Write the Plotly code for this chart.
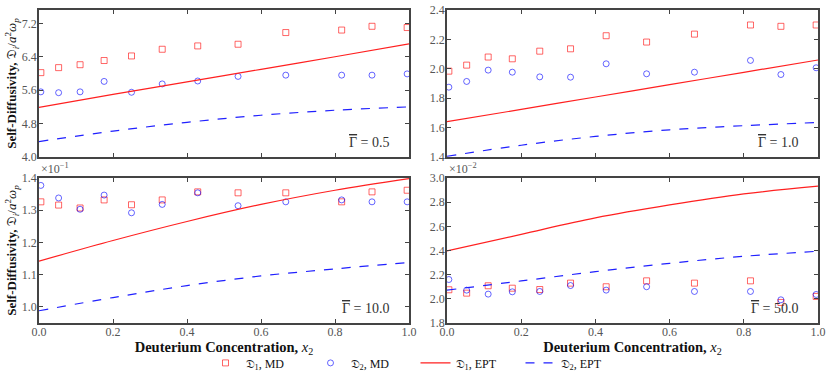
import plotly.graph_objects as go

# concentracoes x2 dos pontos de MD
X_MD = [0.005, 0.053, 0.111, 0.176, 0.25, 0.333, 0.429, 0.538, 0.667, 0.818, 0.9, 0.995]
# malha das curvas EPT
X_EPT = [0.0, 0.2, 0.4, 0.6, 0.8, 1.0]

# Gamma = 0.5
MD_D1_G05 = [6.02, 6.14, 6.21, 6.31, 6.42, 6.58, 6.66, 6.70, 6.98, 7.04, 7.13, 7.10]
MD_D2_G05 = [5.56, 5.54, 5.56, 5.81, 5.55, 5.75, 5.82, 5.93, 5.96, 5.96, 5.96, 5.99]
EPT_D1_G05 = [5.19, 5.50, 5.80, 6.10, 6.40, 6.71]
EPT_D2_G05 = [4.37, 4.62, 4.83, 5.00, 5.12, 5.20]

# Gamma = 1.0
MD_D1_G1 = [1.984, 2.025, 2.080, 2.068, 2.120, 2.136, 2.225, 2.182, 2.236, 2.298, 2.289, 2.298]
MD_D2_G1 = [1.875, 1.914, 1.991, 1.977, 1.945, 1.943, 2.034, 1.966, 1.977, 2.057, 1.961, 2.007]
EPT_D1_G1 = [1.640, 1.724, 1.808, 1.892, 1.976, 2.060]
EPT_D2_G1 = [1.405, 1.480, 1.540, 1.585, 1.613, 1.635]

# Gamma = 10.0  (valores reais, eixo em x1e-1)
MD_D1_G10 = [0.1326, 0.1316, 0.1307, 0.1332, 0.1317, 0.1332, 0.1357, 0.1354, 0.1354, 0.1326, 0.1357, 0.1362]
MD_D2_G10 = [0.1377, 0.1338, 0.1303, 0.1347, 0.1292, 0.1318, 0.1354, 0.1314, 0.1326, 0.1332, 0.1326, 0.1326]
EPT_D1_G10 = [0.1142, 0.1206, 0.1265, 0.1318, 0.1362, 0.1398]
EPT_D2_G10 = [0.0988, 0.1029, 0.1066, 0.1096, 0.1118, 0.1138]

# Gamma = 50.0  (valores reais, eixo em x1e-2)
MD_D1_G50 = [0.02075, 0.02047, 0.02108, 0.02088, 0.02077, 0.02130, 0.02100, 0.02149, 0.02130, 0.02149, 0.01970, 0.02020]
MD_D2_G50 = [0.02160, 0.02072, 0.02039, 0.02058, 0.02061, 0.02110, 0.02072, 0.02100, 0.02061, 0.02061, 0.01992, 0.02036]
EPT_D1_G50 = [0.02396, 0.02534, 0.02670, 0.02777, 0.02868, 0.02932]
EPT_D2_G50 = [0.02072, 0.02148, 0.02225, 0.02294, 0.02352, 0.02394]

PAINEIS = [
    # (md1, md2, ept1, ept2, escala, faixa y, dtick, gamma)
    (MD_D1_G05, MD_D2_G05, EPT_D1_G05, EPT_D2_G05, 1, [4.0, 7.52], 0.8, "0.5"),
    (MD_D1_G1, MD_D2_G1, EPT_D1_G1, EPT_D2_G1, 1, [1.4, 2.4], 0.2, "1.0"),
    (MD_D1_G10, MD_D2_G10, EPT_D1_G10, EPT_D2_G10, 1e-1, [0.95, 1.4], 0.1, "10.0"),
    (MD_D1_G50, MD_D2_G50, EPT_D1_G50, EPT_D2_G50, 1e-2, [1.8, 3.0], 0.2, "50.0"),
]

W, H = 831, 382
DOM_X = [[39 / W, 409 / W], [447 / W, 818 / W]]
DOM_Y = [[1 - 157 / H, 1 - 10 / H], [1 - 323 / H, 1 - 178 / H]]

VERMELHO = "rgba(255,0,0,0.6)"
AZUL = "rgba(0,0,255,0.6)"
FONTE = "Liberation Serif, DejaVu Serif, serif"
D = "\U0001D507"

fig = go.Figure()
layout = {}
anots = []

for k, (md1, md2, e1, e2, esc, faixa, dt, gam) in enumerate(PAINEIS):
    lin, col = divmod(k, 2)
    n = k + 1
    xa = "x" if n == 1 else f"x{n}"
    ya = "y" if n == 1 else f"y{n}"
    leg = k == 0
    fig.add_trace(go.Scatter(
        x=X_MD, y=[v / esc for v in md1], mode="markers", xaxis=xa, yaxis=ya,
        name=f"{D}<sub>1</sub>, MD", showlegend=leg, cliponaxis=False,
        marker=dict(symbol="square-open", size=6, color=VERMELHO, line=dict(width=1)),
    ))
    fig.add_trace(go.Scatter(
        x=X_MD, y=[v / esc for v in md2], mode="markers", xaxis=xa, yaxis=ya,
        name=f"{D}<sub>2</sub>, MD", showlegend=leg, cliponaxis=False,
        marker=dict(symbol="circle-open", size=6, color=AZUL, line=dict(width=1)),
    ))
    fig.add_trace(go.Scatter(
        x=X_EPT, y=[v / esc for v in e1], mode="lines", xaxis=xa, yaxis=ya,
        name=f"{D}<sub>1</sub>, EPT", showlegend=leg,
        line=dict(color="#ff2020", width=1.2, shape="spline"),
    ))
    fig.add_trace(go.Scatter(
        x=X_EPT, y=[v / esc for v in e2], mode="lines", xaxis=xa, yaxis=ya,
        name=f"{D}<sub>2</sub>, EPT", showlegend=leg,
        line=dict(color="#2020ff", width=1.2, dash="dash", shape="spline"),
    ))

    eixo = dict(
        showline=True, linecolor="#444444", linewidth=1.5, mirror="ticks",
        ticks="inside", ticklen=4, tickcolor="#444444", showgrid=False, zeroline=False,
        tickfont=dict(family=FONTE, size=12, color="#555555"), automargin=False,
    )
    layout["xaxis" if n == 1 else f"xaxis{n}"] = dict(
        eixo, domain=DOM_X[col], range=[0, 1], dtick=0.2, tick0=0, tickformat=".1f",
        anchor=ya, showticklabels=(lin == 1), ticklabelstandoff=-3,
        title=dict(text="<b>Deuterium Concentration, </b><i>x</i><sub>2</sub>",
                   font=dict(family=FONTE, size=14.5, color="#111111"), standoff=0) if lin == 1 else None,
    )
    layout["yaxis" if n == 1 else f"yaxis{n}"] = dict(
        eixo, domain=DOM_Y[lin], range=faixa, dtick=dt, tick0=faixa[0] if k == 0 else 1.0,
        tickformat=".1f", anchor=xa, ticklabelstandoff=-2,
        title=dict(text=f"<b>Self-Diffusivity, </b>{D}<sub><i>i</i></sub>/<i>a</i><sup>2</sup><i>ω</i><sub><i>p</i></sub>",
                   font=dict(family=FONTE, size=13, color="#111111"), standoff=2) if col == 0 else None,
    )
    anots.append(dict(
        xref=f"{xa} domain", yref=f"{ya} domain", x=0.955, y=0.1, xanchor="right", yanchor="middle",
        text=f"<span style='text-decoration:overline'>Γ</span> = {gam}", showarrow=False,
        font=dict(family=FONTE, size=14, color="#333333"),
    ))
    if esc != 1:
        exp = "1" if esc == 1e-1 else "2"
        anots.append(dict(
            xref=f"{xa} domain", yref=f"{ya} domain", x=0.0, y=1.0, xanchor="left", yanchor="bottom",
            text=f"×10<sup>−{exp}</sup>", showarrow=False,
            font=dict(family=FONTE, size=12, color="#555555"),
        ))

fig.update_layout(**layout)
fig.update_layout(
    width=W, height=H,
    margin=dict(l=0, r=0, t=0, b=0),
    paper_bgcolor="white", plot_bgcolor="white",
    font=dict(family=FONTE, color="#111111"),
    annotations=anots,
    legend=dict(
        orientation="h", x=0.5, xanchor="center", y=0.05, yanchor="middle",
        font=dict(family=FONTE, size=12, color="#111111"),
        bgcolor="rgba(0,0,0,0)", itemwidth=30, entrywidth=60, entrywidthmode="pixels",
    ),
)

fig.write_html(
    "out.html",
    config={"displayModeBar": False},
    post_script="document.body.style.margin='0px';",
)
